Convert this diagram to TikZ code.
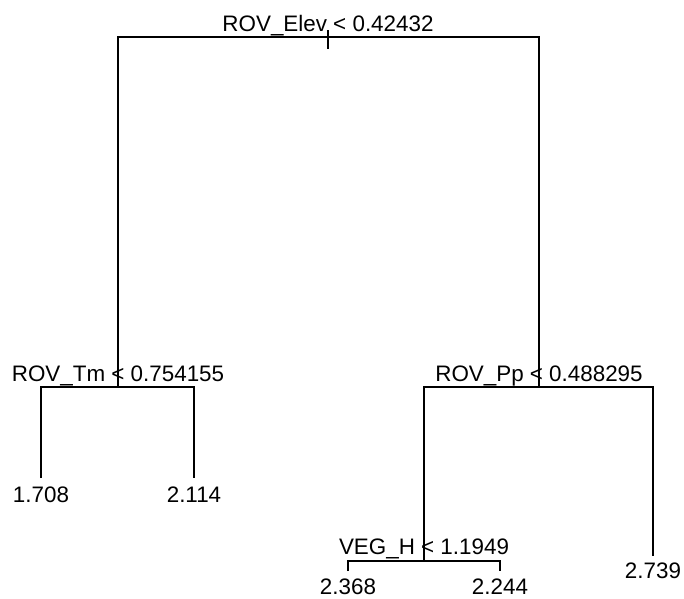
\documentclass[tikz,border=0pt]{standalone}
\usepackage{fontspec}
\setmainfont{Liberation Sans}
\begin{document}
\begin{tikzpicture}[x=1pt,y=-1pt,
  edge/.style={line width=1.6pt,black},
  split/.style={anchor=base,inner sep=0pt,font=\fontsize{22.4}{26}\selectfont},
  leaf/.style={anchor=base,inner sep=0pt,font=\fontsize{22.4}{26}\selectfont}]
\useasboundingbox (0,0) rectangle (684,598);
% node positions
\coordinate (root) at (328,37);
\coordinate (rtop) at (328,30);
\coordinate (rbot) at (328,49);
\coordinate (n2) at (118,387);
\coordinate (n3) at (539,387);
\coordinate (n6) at (424,561);
\coordinate (l4) at (41,478);
\coordinate (l5) at (194,478);
\coordinate (l7) at (653,556);
\coordinate (l12) at (348,571);
\coordinate (l13) at (500,571);
% connectors
\draw[edge] (rtop) -- (rbot);
\draw[edge] (n2) |- (root) -| (n3);
\draw[edge] (l4) |- (n2) -| (l5);
\draw[edge] (n6) |- (n3) -| (l7);
\draw[edge] (l12) |- (n6) -| (l13);
% split labels
\node[split] (troot) at (328,31) {ROV\_Elev < 0.42432};
\node[split] (tn2) at (118,381) {ROV\_Tm < 0.754155};
\node[split] (tn3) at (539,381) {ROV\_Pp < 0.488295};
\node[split] (tn6) at (424,554) {VEG\_H < 1.1949};
% leaf labels
\node[leaf] (t4) at (41,502) {1.708};
\node[leaf] (t5) at (194,502) {2.114};
\node[leaf] (t7) at (653,578) {2.739};
\node[leaf] (t12) at (348,594) {2.368};
\node[leaf] (t13) at (500,594) {2.244};
\end{tikzpicture}
\end{document}
